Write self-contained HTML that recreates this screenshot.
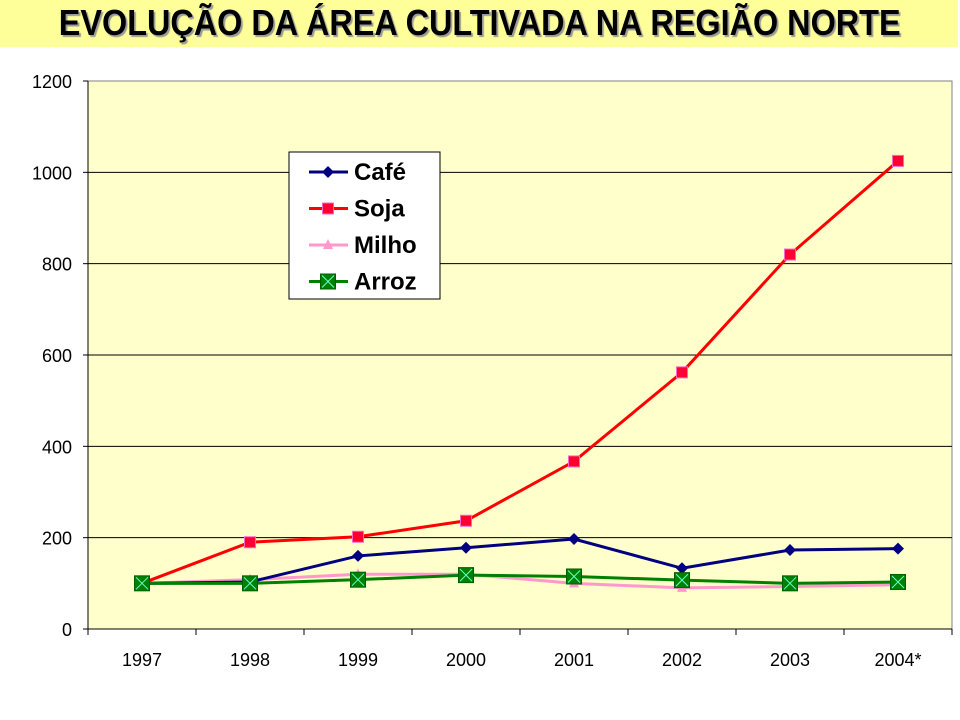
<!DOCTYPE html>
<html><head><meta charset="utf-8"><style>
body{margin:0;width:960px;height:720px;background:#fff;overflow:hidden;font-family:"Liberation Sans",sans-serif}
#banner{position:absolute;left:0;top:0;width:958px;height:47px;background:#ffff99}
#title{position:absolute;left:0;top:2px;width:960px;text-align:center;font-weight:bold;font-size:36px;color:#000;text-shadow:2px 2px 1px #999;white-space:nowrap}
#title span{display:inline-block;transform:scaleX(0.9)}
svg{position:absolute;left:0;top:0}
</style></head><body>
<div id="banner"></div>
<div id="title"><span>EVOLUÇÃO DA ÁREA CULTIVADA NA REGIÃO NORTE</span></div>
<svg id="chart" width="960" height="720"></svg>
<script>
const categories=["1997","1998","1999","2000","2001","2002","2003","2004*"];
const yTicks=[0,200,400,600,800,1000,1200];
const cafe=[100,103,160,178,197,133,173,176];
const soja=[100,190,202,237,367,562,820,1025];
const milho=[100,108,120,120,100,90,93,97];
const arroz=[100,100,108,118,115,107,100,103];
const NS="http://www.w3.org/2000/svg";
const svg=document.getElementById('chart');
const L=88,R=952,T=81,B=629,yMax=1200;
const bw=(R-L)/categories.length;
const xs=i=>L+bw*(i+0.5);
const ys=v=>B-(v/yMax)*(B-T);
function mk(tag,attrs,parent){const e=document.createElementNS(NS,tag);for(const k in attrs)e.setAttribute(k,attrs[k]);(parent||svg).appendChild(e);return e;}
let bg=mk('rect',{x:L,y:T,width:R-L,height:B-T,fill:'#ffffcc',stroke:'#808080','stroke-width':1});


yTicks.forEach(v=>{
  const y=ys(v);
  if(v>0&&v<yMax){let g=mk('line',{x1:L,x2:R,y1:y,y2:y,stroke:'#000','stroke-width':1});}
  mk('line',{x1:L-5,x2:L,y1:y,y2:y,stroke:'#000'});
  let t=mk('text',{x:L-16,y:y+7,'text-anchor':'end','font-size':18,fill:'#000'});
  t.textContent=v;
  
  
});
mk('line',{x1:L,x2:L,y1:T,y2:B,stroke:'#000'});
mk('line',{x1:L,x2:R,y1:B,y2:B,stroke:'#000'});
categories.forEach((c,i)=>{
  const x=L+bw*i;
  mk('line',{x1:x,x2:x,y1:B,y2:B+6,stroke:'#000'});
  let t=mk('text',{x:xs(i),y:B+37,'text-anchor':'middle','font-size':18,fill:'#000'});
  t.textContent=c;
  
  
});
mk('line',{x1:R,x2:R,y1:B,y2:B+6,stroke:'#000'});
function marker(type,x,y,parent){
  if(type==='diamond')mk('polygon',{points:`${x},${y-6} ${x+6},${y} ${x},${y+6} ${x-6},${y}`,fill:'#000080'},parent);
  else if(type==='square')mk('rect',{x:x-5.5,y:y-5.5,width:11,height:11,fill:'#ff0033',stroke:'#ff66cc','stroke-width':1},parent);
  else if(type==='tri')mk('polygon',{points:`${x},${y-6} ${x+5},${y+4} ${x-5},${y+4}`,fill:'#ff99cc'},parent);
  else if(type==='xbox'){mk('rect',{x:x-7.5,y:y-7.5,width:15,height:15,fill:'#008000',stroke:'#006000'},parent);
    mk('path',{d:`M${x-6} ${y-6}L${x+6} ${y+6}M${x+6} ${y-6}L${x-6} ${y+6}`,stroke:'#66ffcc','stroke-width':1},parent);}
}
const series=[
  {name:'milho',vals:milho,color:'#ff99cc',m:'tri',label:'Milho'},
  {name:'cafe',vals:cafe,color:'#000080',m:'diamond',label:'Café'},
  {name:'soja',vals:soja,color:'#ff0000',m:'square',label:'Soja'},
  {name:'arroz',vals:arroz,color:'#008000',m:'xbox',label:'Arroz'}
];
series.forEach(s=>{
  const g=mk('g',{});
  
  
  mk('polyline',{points:s.vals.map((v,i)=>xs(i)+','+ys(v)).join(' '),fill:'none',stroke:s.color,'stroke-width':3},g);
  s.vals.forEach((v,i)=>marker(s.m,xs(i),ys(v),g));
});
const lg=mk('g',{});


mk('rect',{x:289,y:152,width:151,height:147,fill:'#fff',stroke:'#000','stroke-width':1},lg);
const order=[series[1],series[2],series[0],series[3]];
order.forEach((s,i)=>{
  const y=172+i*36.5;
  const e=mk('g',{},lg);
  
  
  mk('line',{x1:309,x2:348,y1:y,y2:y,stroke:s.color,'stroke-width':3},e);
  marker(s.m,328,y,e);
  const t=mk('text',{x:354,y:y+8,'font-size':24,'font-weight':'bold',fill:'#000'},e);
  t.textContent=s.label;
});
</script>
</body></html>
